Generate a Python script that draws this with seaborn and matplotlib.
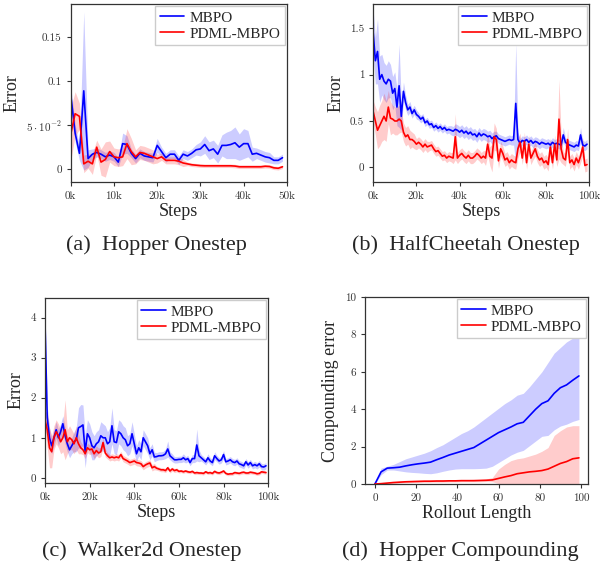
import numpy as np
import pandas as pd
import seaborn as sns
import matplotlib.pyplot as plt
from matplotlib.ticker import FuncFormatter

sns.set_style('ticks')
plt.rcParams['font.family'] = ['Liberation Serif', 'DejaVu Serif']
plt.rcParams['mathtext.fontset'] = 'cm'

BLUE = '#0000ff'
RED = '#ff0000'

# (a) Hopper onestep, 0k..49k
steps_a = np.arange(50) * 1000
hop_mbpo = [0.084, 0.041, 0.018, 0.089, 0.012, 0.017, 0.019, 0.017, 0.014, 0.016,
            0.014, 0.008, 0.029, 0.028, 0.018, 0.012, 0.018, 0.015, 0.014, 0.013,
            0.027, 0.020, 0.013, 0.017, 0.017, 0.010, 0.017, 0.015, 0.018, 0.022,
            0.023, 0.028, 0.021, 0.023, 0.017, 0.027, 0.027, 0.028, 0.030, 0.025,
            0.029, 0.029, 0.017, 0.018, 0.016, 0.014, 0.013, 0.010, 0.010, 0.013]
hop_mbpo_sd = [0.010, 0.010, 0.008, 0.090, 0.010, 0.006, 0.005, 0.005, 0.005, 0.005,
               0.005, 0.005, 0.012, 0.010, 0.005, 0.005, 0.005, 0.005, 0.005, 0.005,
               0.008, 0.005, 0.005, 0.005, 0.005, 0.005, 0.005, 0.005, 0.005, 0.006,
               0.008, 0.010, 0.010, 0.010, 0.010, 0.012, 0.015, 0.016, 0.018, 0.015,
               0.017, 0.015, 0.008, 0.006, 0.006, 0.006, 0.006, 0.004, 0.004, 0.004]
hop_pdml = [0.040, 0.063, 0.060, 0.006, 0.009, 0.006, 0.025, 0.008, 0.011, 0.020,
            0.014, 0.013, 0.014, 0.029, 0.020, 0.014, 0.019, 0.018, 0.016, 0.014,
            0.012, 0.014, 0.010, 0.010, 0.010, 0.009, 0.007, 0.006, 0.005, 0.0045,
            0.004, 0.0038, 0.0038, 0.0038, 0.0038, 0.0038, 0.0038, 0.0038, 0.0035, 0.0027,
            0.0027, 0.0027, 0.0027, 0.0027, 0.0027, 0.0033, 0.003, 0.0015, 0.001, 0.0027]
hop_pdml_sd = [0.030, 0.025, 0.015, 0.010, 0.008, 0.012, 0.008, 0.015, 0.020, 0.012,
               0.010, 0.010, 0.010, 0.017, 0.015, 0.008, 0.008, 0.008, 0.008, 0.008,
               0.005, 0.004, 0.004, 0.004, 0.004, 0.004, 0.004, 0.002, 0.002, 0.002,
               0.002, 0.002, 0.002, 0.002, 0.002, 0.002, 0.002, 0.002, 0.002, 0.002,
               0.002, 0.002, 0.002, 0.002, 0.002, 0.002, 0.002, 0.002, 0.002, 0.002]

# (b) HalfCheetah onestep, 0k..99k
steps_b = np.arange(100) * 1000
hc_mbpo = [1.45, 1.15, 1.25, 0.95, 1.00, 0.93, 0.90, 0.95, 0.93, 0.80,
           0.85, 0.65, 0.88, 0.55, 0.82, 0.70, 0.62, 0.65, 0.58, 0.62,
           0.57, 0.55, 0.52, 0.54, 0.48, 0.50, 0.46, 0.47, 0.43, 0.45,
           0.42, 0.44, 0.41, 0.43, 0.40, 0.41, 0.40, 0.39, 0.41, 0.40,
           0.38, 0.40, 0.37, 0.39, 0.36, 0.38, 0.35, 0.36, 0.33, 0.37,
           0.34, 0.36, 0.35, 0.33, 0.34, 0.31, 0.33, 0.34, 0.31, 0.30,
           0.29, 0.28, 0.29, 0.30, 0.29, 0.30, 0.69, 0.30, 0.26, 0.29,
           0.28, 0.30, 0.27, 0.29, 0.26, 0.28, 0.27, 0.25, 0.27, 0.26,
           0.25, 0.26, 0.24, 0.27, 0.25, 0.26, 0.25, 0.24, 0.35, 0.27,
           0.25, 0.24, 0.23, 0.22, 0.24, 0.23, 0.35, 0.24, 0.23, 0.25]
hc_mbpo_sd = [0.25, 0.25, 0.35, 0.25, 0.22, 0.20, 0.20, 0.20, 0.18, 0.18,
              0.18, 0.20, 0.45, 0.15, 0.10, 0.08, 0.06, 0.06, 0.05, 0.05,
              0.05, 0.04, 0.04, 0.04, 0.04, 0.04, 0.04, 0.04, 0.04, 0.04,
              0.04, 0.04, 0.04, 0.04, 0.04, 0.04, 0.05, 0.05, 0.06, 0.06,
              0.06, 0.06, 0.06, 0.06, 0.06, 0.06, 0.06, 0.06, 0.06, 0.06,
              0.06, 0.06, 0.06, 0.06, 0.06, 0.06, 0.06, 0.05, 0.05, 0.05,
              0.05, 0.05, 0.05, 0.05, 0.05, 0.06, 0.65, 0.08, 0.05, 0.05,
              0.05, 0.05, 0.05, 0.05, 0.05, 0.05, 0.05, 0.05, 0.05, 0.05,
              0.05, 0.05, 0.05, 0.05, 0.05, 0.05, 0.05, 0.05, 0.08, 0.05,
              0.05, 0.05, 0.05, 0.05, 0.05, 0.05, 0.08, 0.05, 0.05, 0.05]
hc_pdml = [0.60, 0.50, 0.40, 0.45, 0.50, 0.55, 0.50, 0.65, 0.53, 0.52,
           0.50, 0.50, 0.52, 0.50, 0.38, 0.33, 0.35, 0.30, 0.30, 0.28,
           0.25, 0.27, 0.25, 0.22, 0.25, 0.22, 0.23, 0.24, 0.20, 0.17,
           0.18, 0.15, 0.12, 0.13, 0.10, 0.12, 0.11, 0.10, 0.33, 0.10,
           0.13, 0.15, 0.12, 0.10, 0.13, 0.10, 0.10, 0.12, 0.15, 0.13,
           0.10, 0.12, 0.10, 0.25, 0.12, 0.10, 0.33, 0.30, 0.07, 0.20,
           0.15, 0.08, 0.10, 0.05, 0.08, 0.06, 0.05, 0.20, 0.27, 0.10,
           0.28, 0.05, 0.25, 0.10, 0.15, 0.20, 0.12, 0.08, 0.10, 0.05,
           0.07, 0.03, 0.22, 0.05, 0.25, 0.08, 0.52, 0.20, 0.10, 0.08,
           0.30, 0.05, 0.08, 0.03, 0.10, 0.05, 0.12, 0.22, 0.02, 0.03]
hc_pdml_sd = [0.12, 0.15, 0.20, 0.22, 0.22, 0.25, 0.22, 0.18, 0.18, 0.15,
              0.15, 0.15, 0.15, 0.12, 0.10, 0.10, 0.10, 0.10, 0.08, 0.08,
              0.06, 0.06, 0.06, 0.06, 0.06, 0.06, 0.05, 0.05, 0.05, 0.05,
              0.05, 0.05, 0.05, 0.05, 0.05, 0.05, 0.05, 0.06, 0.25, 0.06,
              0.06, 0.06, 0.06, 0.06, 0.06, 0.06, 0.06, 0.06, 0.06, 0.06,
              0.06, 0.06, 0.08, 0.12, 0.10, 0.15, 0.15, 0.12, 0.08, 0.08,
              0.08, 0.07, 0.07, 0.07, 0.07, 0.07, 0.07, 0.10, 0.10, 0.07,
              0.10, 0.07, 0.10, 0.07, 0.07, 0.08, 0.07, 0.07, 0.07, 0.07,
              0.07, 0.07, 0.10, 0.07, 0.10, 0.07, 0.43, 0.15, 0.07, 0.07,
              0.12, 0.07, 0.07, 0.07, 0.07, 0.07, 0.07, 0.10, 0.07, 0.07]

# (c) Walker2d onestep, 0k..99k
steps_c = np.arange(100) * 1000
wk_mbpo = [3.90, 1.50, 1.00, 0.80, 1.00, 1.20, 1.00, 1.15, 1.35, 1.05,
           0.85, 0.70, 0.80, 0.90, 0.95, 1.25, 1.28, 1.32, 0.65, 1.10,
           1.00, 0.80, 0.75, 0.85, 0.90, 1.05, 1.00, 1.00, 0.85, 0.90,
           1.30, 0.90, 0.88, 1.15, 1.10, 1.00, 0.95, 0.80, 0.85, 1.10,
           0.85, 0.60, 0.75, 0.65, 1.00, 0.90, 0.80, 0.60, 0.70, 0.52,
           0.53, 0.55, 0.55, 0.56, 0.60, 0.72, 0.55, 0.50, 0.45, 0.45,
           0.46, 0.46, 0.50, 0.45, 0.48, 0.38, 0.48, 0.48, 0.82, 0.55,
           0.50, 0.45, 0.40, 0.50, 0.42, 0.38, 0.55, 0.48, 0.42, 0.45,
           0.58, 0.40, 0.42, 0.45, 0.40, 0.38, 0.42, 0.35, 0.33, 0.30,
           0.40, 0.32, 0.38, 0.30, 0.33, 0.30, 0.35, 0.28, 0.27, 0.30]
wk_mbpo_sd = [0.30, 0.30, 0.25, 0.20, 0.20, 0.20, 0.20, 0.20, 0.20, 0.20,
              0.20, 0.20, 0.20, 0.25, 0.30, 0.50, 0.55, 0.50, 0.40, 0.35,
              0.35, 0.35, 0.30, 0.30, 0.30, 0.35, 0.35, 0.30, 0.30, 0.35,
              0.45, 0.30, 0.30, 0.30, 0.30, 0.30, 0.30, 0.25, 0.25, 0.30,
              0.25, 0.20, 0.20, 0.20, 0.20, 0.20, 0.20, 0.15, 0.15, 0.12,
              0.10, 0.10, 0.10, 0.10, 0.12, 0.20, 0.10, 0.10, 0.08, 0.08,
              0.08, 0.08, 0.10, 0.08, 0.08, 0.08, 0.10, 0.10, 0.40, 0.15,
              0.08, 0.08, 0.08, 0.10, 0.08, 0.08, 0.10, 0.08, 0.08, 0.08,
              0.10, 0.08, 0.08, 0.08, 0.08, 0.08, 0.08, 0.08, 0.08, 0.08,
              0.08, 0.08, 0.08, 0.08, 0.08, 0.08, 0.08, 0.08, 0.08, 0.08]
wk_pdml = [1.45, 1.20, 0.75, 0.65, 1.00, 1.15, 1.05, 0.90, 1.00, 1.20,
           0.90, 1.00, 0.95, 0.85, 1.00, 0.85, 0.75, 0.70, 0.60, 0.75,
           0.70, 0.72, 0.60, 0.68, 0.62, 0.65, 0.88, 0.62, 0.55, 0.50,
           0.52, 0.50, 0.52, 0.50, 0.58, 0.48, 0.45, 0.42, 0.38, 0.40,
           0.42, 0.38, 0.37, 0.35, 0.28, 0.32, 0.35, 0.37, 0.25, 0.28,
           0.24, 0.22, 0.20, 0.20, 0.18, 0.25, 0.17, 0.22, 0.18, 0.20,
           0.16, 0.17, 0.15, 0.17, 0.15, 0.14, 0.16, 0.12, 0.13, 0.12,
           0.12, 0.11, 0.15, 0.12, 0.13, 0.11, 0.16, 0.13, 0.12, 0.14,
           0.17, 0.11, 0.09, 0.10, 0.10, 0.13, 0.12, 0.11, 0.13, 0.14,
           0.12, 0.12, 0.14, 0.13, 0.12, 0.10, 0.11, 0.15, 0.14, 0.13]
wk_pdml_sd = [0.20, 0.45, 0.50, 0.40, 0.30, 0.30, 0.30, 0.30, 0.35, 0.75,
              0.30, 0.30, 0.25, 0.25, 0.30, 0.25, 0.15, 0.12, 0.12, 0.12,
              0.12, 0.12, 0.12, 0.12, 0.12, 0.12, 0.12, 0.10, 0.08, 0.08,
              0.08, 0.08, 0.08, 0.08, 0.08, 0.08, 0.08, 0.08, 0.08, 0.08,
              0.08, 0.08, 0.08, 0.08, 0.08, 0.08, 0.08, 0.08, 0.08, 0.08,
              0.05, 0.05, 0.05, 0.05, 0.05, 0.05, 0.05, 0.05, 0.05, 0.05,
              0.04, 0.04, 0.04, 0.04, 0.04, 0.04, 0.04, 0.04, 0.04, 0.04,
              0.04, 0.04, 0.04, 0.04, 0.04, 0.04, 0.04, 0.04, 0.04, 0.04,
              0.04, 0.04, 0.04, 0.04, 0.04, 0.04, 0.04, 0.04, 0.04, 0.04,
              0.04, 0.04, 0.04, 0.04, 0.04, 0.04, 0.04, 0.04, 0.04, 0.04]

# (d) Hopper compounding error vs rollout length
rollout = np.arange(0, 100, 3)
comp_mbpo = [0, 0.65, 0.85, 0.87, 0.9, 0.97, 1.03, 1.08, 1.12, 1.17,
             1.3, 1.42, 1.55, 1.65, 1.75, 1.85, 1.95, 2.15, 2.35, 2.55,
             2.75, 2.9, 3.05, 3.22, 3.3, 3.65, 4.0, 4.3, 4.45, 4.85,
             5.15, 5.3, 5.55, 5.78]
comp_mbpo_hi = [0, 0.85, 0.95, 1.05, 1.2, 1.35, 1.45, 1.55, 1.65, 1.78,
                1.95, 2.1, 2.3, 2.5, 2.7, 2.85, 3.05, 3.3, 3.55, 3.8,
                4.05, 4.3, 4.5, 4.75, 4.85, 5.2, 5.6, 6.0, 6.5, 7.0,
                7.3, 7.6, 7.8, 8.05]
comp_mbpo_lo = [0, 0.5, 0.75, 0.75, 0.7, 0.65, 0.62, 0.6, 0.57, 0.55,
                0.6, 0.68, 0.75, 0.8, 0.82, 0.82, 0.82, 0.83, 0.85, 0.95,
                1.15, 1.35, 1.55, 1.7, 1.8, 2.05, 2.3, 2.55, 2.6, 2.9,
                3.1, 3.2, 3.35, 3.45]
comp_pdml = [0, 0.02, 0.05, 0.08, 0.1, 0.12, 0.13, 0.14, 0.15, 0.15,
             0.16, 0.16, 0.17, 0.17, 0.18, 0.18, 0.18, 0.19, 0.2, 0.22,
             0.3, 0.38, 0.45, 0.55, 0.6, 0.65, 0.68, 0.72, 0.8, 0.95,
             1.1, 1.2, 1.35, 1.4]
comp_pdml_hi = [0, 0.04, 0.08, 0.12, 0.15, 0.17, 0.19, 0.2, 0.21, 0.22,
                0.22, 0.23, 0.23, 0.24, 0.24, 0.24, 0.25, 0.25, 0.27, 0.35,
                0.8, 1.05, 1.25, 1.35, 1.4, 1.5, 1.6, 1.75, 1.95, 2.6,
                2.85, 3.05, 3.12, 3.12]
comp_pdml_lo = [0, 0, 0.02, 0.04, 0.05, 0.07, 0.08, 0.09, 0.1, 0.1,
                0.1, 0.1, 0.11, 0.11, 0.12, 0.12, 0.12, 0.12, 0.13, 0.12,
                0.02, 0, 0, 0, 0, 0, 0, 0, 0, 0,
                0, 0, 0, 0]


def draw(ax, x, mean, lo, hi, color, label):
    ax.fill_between(x, lo, hi, color=color, alpha=0.2, lw=0)
    sns.lineplot(x=x, y=mean, color=color, lw=1.2, label=label, ax=ax)


def style(ax, xlabel, ylabel):
    ax.set_xlabel(xlabel, fontsize=13, labelpad=2)
    ax.set_ylabel(ylabel, fontsize=13)
    ax.tick_params(labelsize=8, labelfontfamily='cmr10', length=3,
                   color='#333333', labelcolor='#333333')
    for s in ax.spines.values():
        s.set_color('#333333')
        s.set_linewidth(0.9)
    ax.legend(loc='upper right', fontsize=11, frameon=True, fancybox=False,
              edgecolor='#cccccc', framealpha=1, borderaxespad=0.15,
              handlelength=1.6, handletextpad=0.3, borderpad=0.3,
              labelspacing=0.15)


kfmt = FuncFormatter(lambda v, p: f'{int(round(v / 1000))}k')

fig = plt.figure(figsize=(6, 5.64), dpi=100)
ax_a = fig.add_axes([0.118, 0.677, 0.36, 0.3156])
ax_b = fig.add_axes([0.622, 0.677, 0.36, 0.3156])
ax_c = fig.add_axes([0.075, 0.1436, 0.372, 0.328])
ax_d = fig.add_axes([0.608, 0.1418, 0.372, 0.3316])

for ax, x, m1, s1, m2, s2 in [
        (ax_a, steps_a, hop_mbpo, hop_mbpo_sd, hop_pdml, hop_pdml_sd),
        (ax_b, steps_b, hc_mbpo, hc_mbpo_sd, hc_pdml, hc_pdml_sd),
        (ax_c, steps_c, wk_mbpo, wk_mbpo_sd, wk_pdml, wk_pdml_sd)]:
    m1, s1, m2, s2 = map(np.array, (m1, s1, m2, s2))
    draw(ax, x, m1, m1 - s1, m1 + s1, BLUE, 'MBPO')
    draw(ax, x, m2, m2 - s2, m2 + s2, RED, 'PDML-MBPO')
    style(ax, 'Steps', 'Error')
    ax.xaxis.set_major_formatter(kfmt)

draw(ax_d, rollout, comp_mbpo, comp_mbpo_lo, comp_mbpo_hi, BLUE, 'MBPO')
draw(ax_d, rollout, comp_pdml, comp_pdml_lo, comp_pdml_hi, RED, 'PDML-MBPO')
style(ax_d, 'Rollout Length', 'Compounding error')

ax_a.set_xlim(0, 50000)
ax_a.set_ylim(-0.0148, 0.1875)
ax_a.set_xticks(np.arange(0, 50001, 10000))
ax_a.set_yticks([0, 0.05, 0.1, 0.15])
ax_a.set_yticklabels(['0', r'$5\cdot10^{-2}$', '0.1', '0.15'])

ax_b.set_xlim(0, 100000)
ax_b.set_ylim(-0.16, 1.76)
ax_b.set_xticks(np.arange(0, 100001, 20000))
ax_b.set_yticks([0, 0.5, 1, 1.5])
ax_b.set_yticklabels(['0', '0.5', '1', '1.5'])

ax_c.set_xlim(0, 100000)
ax_c.set_ylim(-0.13, 4.49)
ax_c.set_xticks(np.arange(0, 100001, 20000))
ax_c.set_yticks([0, 1, 2, 3, 4])

ax_d.set_xlim(-4.9, 103.4)
ax_d.set_ylim(0, 10)
ax_d.set_xticks([0, 20, 40, 60, 80, 100])
ax_d.set_yticks([0, 2, 4, 6, 8, 10])

captions = ['(a)  Hopper Onestep', '(b)  HalfCheetah Onestep',
            '(c)  Walker2d Onestep', '(d)  Hopper Compounding']
cap_pos = [(156, 245), (466, 245), (142, 551), (460, 551)]
for txt, (px, py) in zip(captions, cap_pos):
    fig.text(px / 600, 1 - py / 564, txt, ha='center', va='center', fontsize=16)

fig.savefig('out.png', dpi=100)
